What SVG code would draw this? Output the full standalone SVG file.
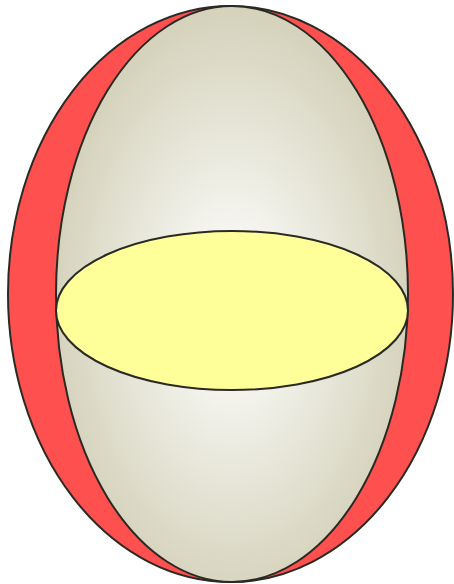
<svg xmlns="http://www.w3.org/2000/svg" width="454" height="584" viewBox="0 0 454 584">
<defs>
<radialGradient id="g" cx="0.5" cy="0.52" r="0.5">
<stop offset="0" stop-color="#ffffff"/>
<stop offset="0.25" stop-color="#f6f6f1"/>
<stop offset="1" stop-color="#d6d3bd"/>
</radialGradient>
</defs>
<style>.s{stroke:#2a2a24;stroke-width:2}</style>
<ellipse class="s" cx="230.5" cy="294" rx="222.5" ry="288" fill="#ff5050"/>
<ellipse class="s" cx="232" cy="294" rx="176" ry="288" fill="url(#g)"/>
<ellipse class="s" cx="232" cy="310.5" rx="176" ry="79.5" fill="#ffff99"/>
</svg>
